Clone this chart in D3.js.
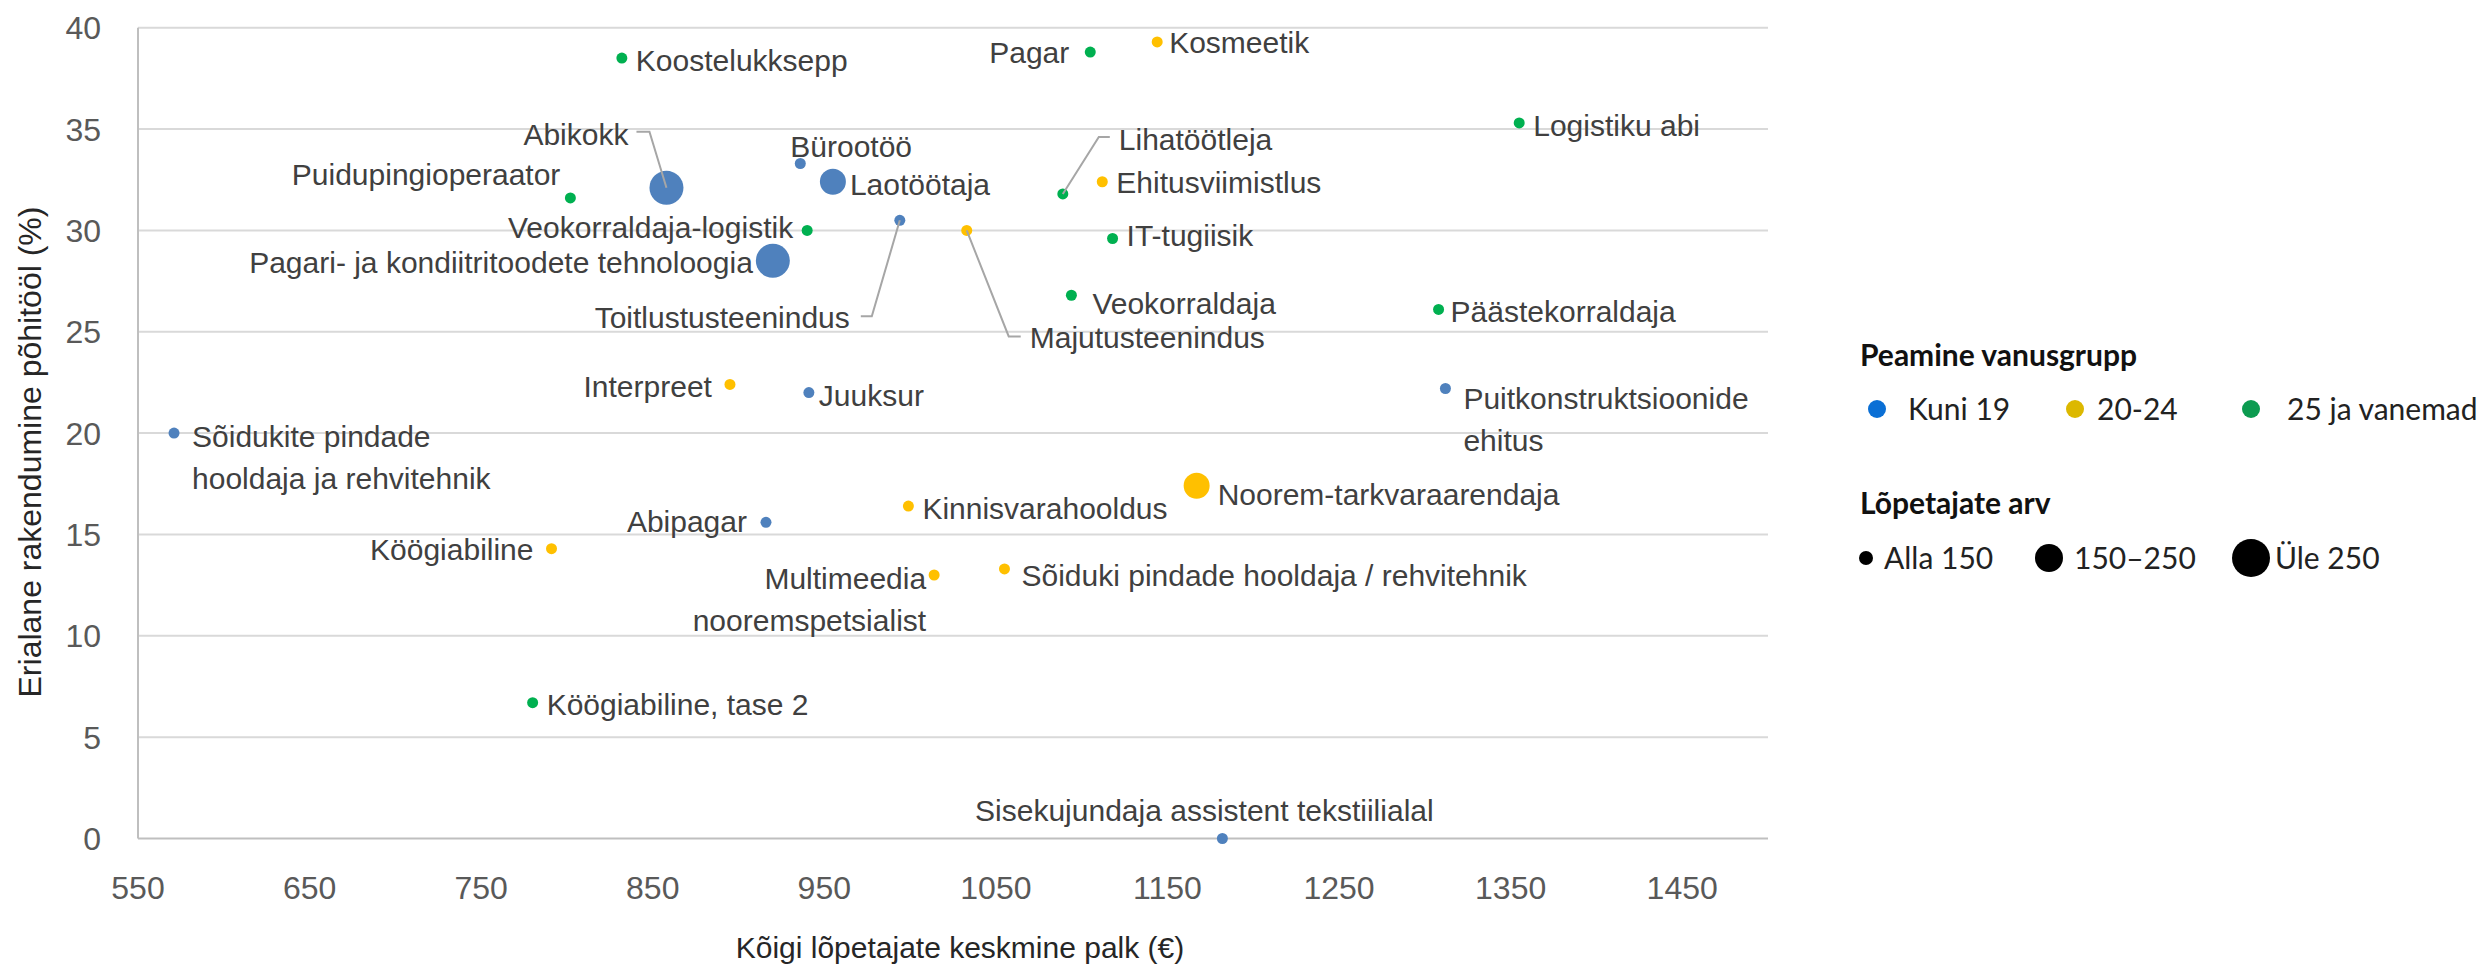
<!DOCTYPE html>
<html>
<head>
<meta charset="utf-8">
<script src="https://cdn.jsdelivr.net/npm/d3@7"></script>
<style>
  html, body { margin: 0; padding: 0; background: #fff; }
  svg { display: block; }
</style>
</head>
<body>
<svg id="chart"></svg>
<script>
// data
const names = [
    "Koostelukksepp", "Abikokk", "Puidupingioperaator", "Bürootöö", "Laotöötaja",
    "Veokorraldaja-logistik", "Pagari- ja kondiitritoodete tehnoloogia", "Toitlustusteenindus",
    "Interpreet", "Juuksur", "Sõidukite pindade|hooldaja ja rehvitehnik", "Pagar", "Kosmeetik",
    "Logistiku abi", "Lihatöötleja", "Ehitusviimistlus", "Majutusteenindus", "IT-tugiisik",
    "Veokorraldaja", "Päästekorraldaja", "Puitkonstruktsioonide|ehitus", "Noorem-tarkvaraarendaja",
    "Abipagar", "Köögiabiline", "Köögiabiline, tase 2", "Multimeedia|nooremspetsialist",
    "Kinnisvarahooldus", "Sõiduki pindade hooldaja / rehvitehnik", "Sisekujundaja assistent tekstiilialal"
];
const salary = [
    832, 858, 802, 936, 955, 940, 920, 994,
    895, 941, 571, 1105, 1144,
    1355, 1089, 1112, 1033, 1118,
    1094, 1308, 1312, 1167,
    916, 791, 780, 1014,
    999, 1055, 1182
];
const employment = [
    38.5, 32.1, 31.6, 33.3, 32.4, 30.0, 28.5, 30.5,
    22.4, 22.0, 20.0, 38.8, 39.3,
    35.3, 31.8, 32.4, 30.0, 29.6,
    26.8, 26.1, 22.2, 17.4,
    15.6, 14.3, 6.7, 13.0,
    16.4, 13.3, 0
];
// 0 = Kuni 19, 1 = 20-24, 2 = 25 ja vanemad
const ageGroup = [
    2, 0, 2, 0, 0, 2, 0, 0,
    1, 0, 0, 2, 1,
    2, 2, 1, 1, 2,
    2, 2, 0, 1,
    0, 1, 2, 1,
    1, 1, 0
];
// 0 = Alla 150, 1 = 150–250, 2 = Üle 250
const sizeGroup = [
    0, 2, 0, 0, 1, 0, 2, 0,
    0, 0, 0, 0, 0,
    0, 0, 0, 0, 0,
    0, 0, 0, 1,
    0, 0, 0, 0,
    0, 0, 0
];
const ageLabels = ["Kuni 19", "20-24", "25 ja vanemad"];
const sizeLabels = ["Alla 150", "150–250", "Üle 250"];
const xTicks = d3.range(550, 1451, 100);
const yTicks = d3.range(0, 41, 5);

// styling
const W = 2484, H = 966;
const dotColors = ["#4f81bd", "#ffc000", "#00b050"];
const legendColors = ["#0a6fd5", "#dcb800", "#0c9b50"];
const dotRadius = [5.5, 13, 17];
const legendRadius = [7, 14, 19];

// label placement: [dx, dy, anchor] from the dot centre, plus optional leader line
const labelPlace = [
    [14, 2, "start"], [-38, -54, "end"], [-10, -24, "end"], [-10, -17, "start"], [17, 2, "start"],
    [-14, -3, "end"], [-20, 1, "end"], [-50, 97, "end"],
    [-18, 2, "end"], [10, 3, "start"], [18, 3, "start"], [-21, 0, "end"], [12, 0, "start"],
    [14, 2, "start"], [56, -55, "start"], [14, 0, "start"], [63, 107, "start"], [14, -3, "start"],
    [21, 8, "start"], [12, 2, "start"], [18, 10, "start"], [21, 8, "start"],
    [-19, -1, "end"], [-18, 1, "end"], [14, 2, "start"], [-8, 3, "end"],
    [14, 2, "start"], [17, 6, "start"], [-18, -28, "middle"]
];
const leaders = {
    1: [[0, 0], [-17, -56], [-30, -56]],
    7: [[0, 0], [-28, 96], [-39, 96]],
    14: [[0, 0], [36, -57], [47, -57]],
    16: [[0, 0], [42, 106], [54, 106]]
};

const svg = d3.select("#chart").attr("width", W).attr("height", H);
svg.append("rect").attr("width", W).attr("height", H).attr("fill", "#fff");

const x = d3.scaleLinear().domain([550, 1500]).range([138, 1768]);
const y = d3.scaleLinear().domain([0, 40]).range([838.5, 27.7]);

// gridlines
svg.append("g")
    .selectAll("line")
    .data(yTicks.filter(t => t > 0))
    .enter().append("line")
    .attr("x1", x(550)).attr("x2", x(1500))
    .attr("y1", d => y(d)).attr("y2", d => y(d))
    .attr("stroke", "#d9d9d9")
    .attr("stroke-width", 2);

// axis lines
svg.append("line")
    .attr("x1", x(550)).attr("x2", x(1500))
    .attr("y1", y(0)).attr("y2", y(0))
    .attr("stroke", "#bfbfbf").attr("stroke-width", 2);
svg.append("line")
    .attr("x1", x(550)).attr("x2", x(550))
    .attr("y1", y(0)).attr("y2", y(40))
    .attr("stroke", "#bfbfbf").attr("stroke-width", 2);

// tick labels
const tickFont = "'Liberation Sans', Arial, sans-serif";
svg.append("g")
    .selectAll("text")
    .data(yTicks)
    .enter().append("text")
    .attr("x", 101)
    .attr("y", d => y(d))
    .attr("dy", "0.36em")
    .attr("text-anchor", "end")
    .attr("font-family", tickFont)
    .attr("font-size", 32)
    .attr("fill", "#595959")
    .text(d => d);

svg.append("g")
    .selectAll("text")
    .data(xTicks)
    .enter().append("text")
    .attr("x", d => x(d))
    .attr("y", 887)
    .attr("dy", "0.36em")
    .attr("text-anchor", "middle")
    .attr("font-family", tickFont)
    .attr("font-size", 32)
    .attr("fill", "#595959")
    .text(d => d);

// axis titles
svg.append("text")
    .attr("x", 960)
    .attr("y", 947)
    .attr("dy", "0.36em")
    .attr("text-anchor", "middle")
    .attr("font-family", tickFont)
    .attr("font-size", 30)
    .attr("fill", "#262626")
    .text("Kõigi lõpetajate keskmine palk (€)");

svg.append("text")
    .attr("transform", "translate(29,452) rotate(-90)")
    .attr("dy", "0.36em")
    .attr("text-anchor", "middle")
    .attr("font-family", tickFont)
    .attr("font-size", 32)
    .attr("fill", "#262626")
    .text("Erialane rakendumine põhitööl (%)");

// points
const points = names.map((n, i) => ({
    name: n,
    px: x(salary[i]),
    py: y(employment[i]),
    age: ageGroup[i],
    size: sizeGroup[i],
    place: labelPlace[i],
    leader: leaders[i]
}));

svg.append("g")
    .selectAll("circle")
    .data(points)
    .enter().append("circle")
    .attr("cx", d => d.px)
    .attr("cy", d => d.py)
    .attr("r", d => dotRadius[d.size])
    .attr("fill", d => dotColors[d.age]);

// leader lines
svg.append("g")
    .selectAll("path")
    .data(points.filter(d => d.leader))
    .enter().append("path")
    .attr("d", d => d3.line()(d.leader.map(p => [d.px + p[0], d.py + p[1]])))
    .attr("fill", "none")
    .attr("stroke", "#a6a6a6")
    .attr("stroke-width", 2);

// data labels
const labels = svg.append("g")
    .selectAll("text")
    .data(points)
    .enter().append("text")
    .attr("x", d => d.px + d.place[0])
    .attr("y", d => d.py + d.place[1])
    .attr("text-anchor", d => d.place[2])
    .attr("font-family", tickFont)
    .attr("font-size", 30)
    .attr("fill", "#404040");

labels.each(function(d) {
    const lines = d.name.split("|");
    const t = d3.select(this);
    lines.forEach((line, k) => {
        t.append("tspan")
            .attr("x", d.px + d.place[0])
            .attr("dy", k === 0 ? "0.36em" : 42)
            .text(line);
    });
});

// legend
const legendFont = "Lato, 'Noto Sans', sans-serif";
const legend = svg.append("g");

legend.append("text")
    .attr("x", 1860).attr("y", 355).attr("dy", "0.36em")
    .attr("font-family", legendFont).attr("font-weight", 700)
    .attr("font-size", 30).attr("fill", "#111")
    .text("Peamine vanusgrupp");

const ageX = [[1877, 1908], [2075, 2097], [2251, 2287]];
ageLabels.forEach((lab, i) => {
    legend.append("circle")
        .attr("cx", ageX[i][0]).attr("cy", 409).attr("r", 9)
        .attr("fill", legendColors[i]);
    legend.append("text")
        .attr("x", ageX[i][1]).attr("y", 409).attr("dy", "0.36em")
        .attr("font-family", legendFont).attr("font-size", 30).attr("fill", "#222")
        .text(lab);
});

legend.append("text")
    .attr("x", 1860).attr("y", 503).attr("dy", "0.36em")
    .attr("font-family", legendFont).attr("font-weight", 700)
    .attr("font-size", 30).attr("fill", "#111")
    .text("Lõpetajate arv");

const sizeX = [[1866, 1884], [2049, 2074], [2251, 2275]];
sizeLabels.forEach((lab, i) => {
    legend.append("circle")
        .attr("cx", sizeX[i][0]).attr("cy", 558).attr("r", legendRadius[i])
        .attr("fill", "#000");
    legend.append("text")
        .attr("x", sizeX[i][1]).attr("y", 558).attr("dy", "0.36em")
        .attr("font-family", legendFont).attr("font-size", 30).attr("fill", "#222")
        .text(lab);
});
</script>
</body>
</html>
